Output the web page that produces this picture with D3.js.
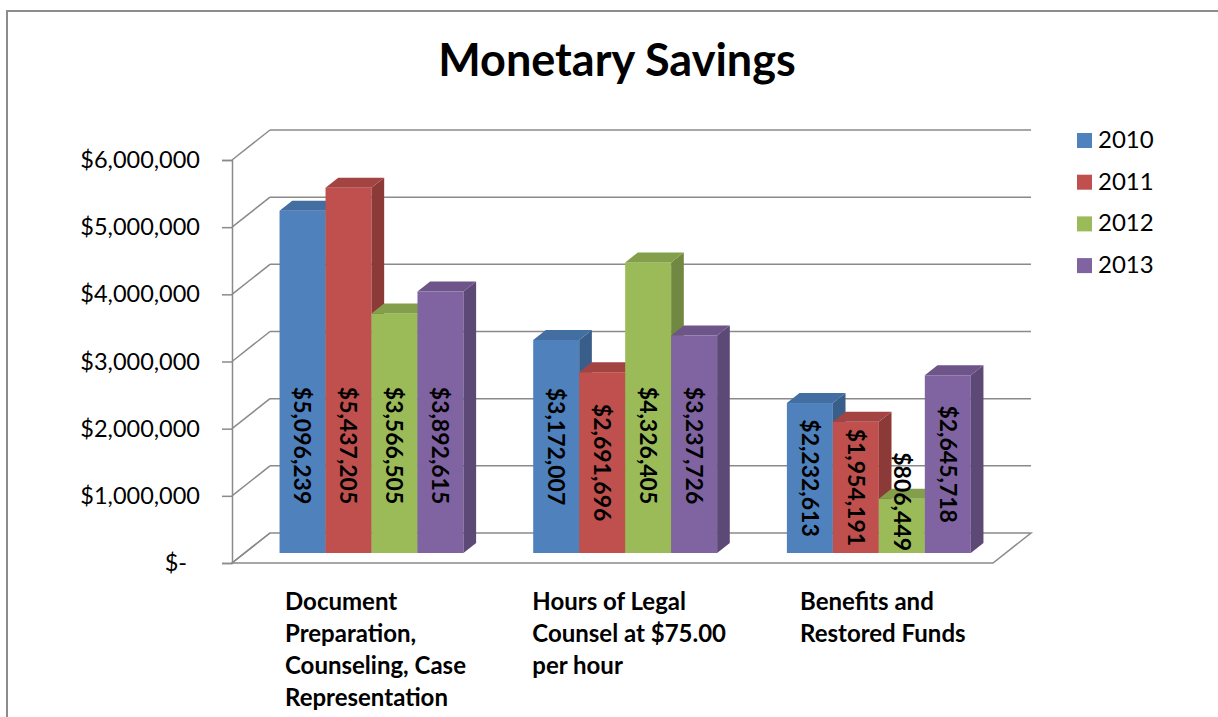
<!DOCTYPE html>
<html>
  <head>
    <style>
    body {
      margin: 0;
      background: #fff;
    }
    text {
      font-family: Lato, "Open Sans", sans-serif;
    }
    </style>
  </head>
  <body>
    <script src="https://d3js.org/d3.v7.min.js"></script>
    <script>

    // data
    var categories = ["Document Preparation, Counseling, Case Representation",
                      "Hours of Legal Counsel at $75.00 per hour",
                      "Benefits and Restored Funds"];
    var categoryLines = [["Document", "Preparation,", "Counseling, Case", "Representation"],
                         ["Hours of Legal", "Counsel at $75.00", "per hour"],
                         ["Benefits and", "Restored Funds"]];
    var years = ["2010", "2011", "2012", "2013"];
    var values2010 = [5096239, 3172007, 2232613];
    var values2011 = [5437205, 2691696, 1954191];
    var values2012 = [3566505, 4326405, 806449];
    var values2013 = [3892615, 3237726, 2645718];
    var yTicks = [0, 1000000, 2000000, 3000000, 4000000, 5000000, 6000000];
    var colors = ["#4F81BD", "#C0504D", "#9BBB59", "#8064A2"];

    var series = [values2010, values2011, values2012, values2013];

    var width = 1218, height = 717;

    // 3d-ish floor: front edge and depth offset
    var DX = 38, DY = -30;
    var f1 = 1 / 3, f2 = 2 / 3; // bar front / back depth fraction

    var svg = d3.select("body").append("svg")
        .attr("width", width)
        .attr("height", height);

    // chart border (runs off the page right and bottom)
    svg.append("path")
        .attr("d", "M7,730 L7,11 L1230,11")
        .style("fill", "none")
        .style("stroke", "#8c8c8c")
        .style("stroke-width", 2);

    var y = d3.scaleLinear().domain([0, 6000000]).range([563, 160]);
    var x0 = d3.scaleBand().domain(categories).range([232, 993])
        .paddingInner(0.275).paddingOuter(0.1375);
    var x1 = d3.scaleBand().domain(years).range([0, x0.bandwidth()]);

    var gridColor = "#8a8a8a";

    // floor
    var fl = 232, fr = 993, fy = y(0);
    svg.append("path")
        .attr("d", "M" + fl + "," + fy + " L" + fr + "," + fy + " L" + (fr + DX) + "," + (fy + DY) +
                   " L" + (fl + DX) + "," + (fy + DY) + " Z")
        .style("fill", "#fff")
        .style("stroke", gridColor)
        .style("stroke-width", 1.5);

    // back wall gridlines + side wall diagonals
    var grid = svg.append("g");
    grid.selectAll(".hgrid")
        .data(yTicks.slice(1))
      .enter().append("line")
        .attr("x1", fl + DX).attr("x2", fr + DX)
        .attr("y1", function(d){ return y(d) + DY; })
        .attr("y2", function(d){ return y(d) + DY; })
        .style("stroke", gridColor).style("stroke-width", 1.5);

    grid.selectAll(".dgrid")
        .data(yTicks)
      .enter().append("line")
        .attr("x1", fl).attr("x2", fl + DX)
        .attr("y1", function(d){ return y(d); })
        .attr("y2", function(d){ return y(d) + DY; })
        .style("stroke", gridColor).style("stroke-width", 1.5);

    // y axis
    var fmt = d3.format(",");
    var yAxis = d3.axisLeft(y)
        .tickValues(yTicks)
        .tickSize(10)
        .tickPadding(22)
        .tickFormat(function(d){ return d === 0 ? "$-" : "$" + fmt(d); });

    var ax = svg.append("g")
        .attr("transform", "translate(" + fl + ",0)")
        .call(yAxis);
    ax.select(".domain").style("stroke", gridColor).style("stroke-width", 1.5);
    ax.selectAll(".tick line").style("stroke", gridColor).style("stroke-width", 1.5);
    ax.selectAll(".tick text")
        .style("font-size", "23.5px")
        .style("font-family", "Lato, sans-serif")
        .style("fill", "#000")
        .attr("dx", function(d){ return d === 0 ? -13 : 0; });

    // bars
    var ox1 = f1 * DX, oy1 = f1 * DY;
    var bdx = (f2 - f1) * DX, bdy = (f2 - f1) * DY;
    var bw = x1.bandwidth();

    var bars = [];
    categories.forEach(function(c, ci){
      years.forEach(function(yr, si){
        bars.push({cat: c, ci: ci, year: yr, si: si, value: series[si][ci]});
      });
    });

    var barG = svg.selectAll(".bar")
        .data(bars)
      .enter().append("g")
        .attr("class", "bar");

    function fx(d){ return x0(d.cat) + x1(d.year) + ox1; }

    barG.append("rect")
        .attr("x", fx)
        .attr("y", function(d){ return y(d.value) + oy1; })
        .attr("width", bw)
        .attr("height", function(d){ return y(0) - y(d.value); })
        .style("fill", function(d){ return colors[d.si]; });

    // right side
    barG.append("path")
        .attr("d", function(d){
          var xr = fx(d) + bw, yt = y(d.value) + oy1, yb = y(0) + oy1;
          return "M" + xr + "," + yt + " L" + (xr + bdx) + "," + (yt + bdy) +
                 " L" + (xr + bdx) + "," + (yb + bdy) + " L" + xr + "," + yb + " Z";
        })
        .style("fill", function(d){ return d3.color(colors[d.si]).darker(0.9); });

    // top
    barG.append("path")
        .attr("d", function(d){
          var xl = fx(d), yt = y(d.value) + oy1;
          return "M" + xl + "," + yt + " L" + (xl + bw) + "," + yt + " L" + (xl + bw + bdx) + "," + (yt + bdy) +
                 " L" + (xl + bdx) + "," + (yt + bdy) + " Z";
        })
        .style("fill", function(d){ return d3.color(colors[d.si]).darker(0.45); });

    // value labels, rotated
    var labels = svg.selectAll(".vlabel")
        .data(bars)
      .enter().append("text")
        .attr("class", "vlabel")
        .attr("text-anchor", "middle")
        .attr("dy", "0.35em")
        .style("font-size", "23px")
        .style("font-weight", "bold")
        .style("fill", "#000")
        .text(function(d){ return "$" + fmt(d.value); });

    labels.attr("transform", function(d){
      var half = this.getComputedTextLength() / 2;
      var cx = fx(d) + bw / 2;
      var base = y(0) + oy1;
      var mid = y(Math.min(d.value, 3200000) / 2) + oy1;
      var cy = Math.min(mid, base - half - 2);
      return "translate(" + cx + "," + cy + ") rotate(90)";
    });

    // category labels
    categories.forEach(function(c, ci){
      var cx = x0(c) + x0.bandwidth() / 2 + ox1 + 4;
      var t = svg.append("text")
          .style("font-size", "24px")
          .style("font-weight", "bold")
          .style("fill", "#000");
      categoryLines[ci].forEach(function(line, li){
        t.append("tspan")
            .attr("y", 610 + li * 32)
            .text(line);
      });
      var maxW = d3.max(t.selectAll("tspan").nodes(), function(n){ return n.getComputedTextLength(); });
      t.selectAll("tspan").attr("x", cx - maxW / 2);
    });

    // title
    svg.append("text")
        .attr("x", 617)
        .attr("y", 76)
        .attr("text-anchor", "middle")
        .style("font-size", "45px")
        .style("font-weight", "bold")
        .style("fill", "#000")
        .text("Monetary Savings");

    // legend
    var legend = svg.selectAll(".legend")
        .data(years)
      .enter().append("g")
        .attr("class", "legend")
        .attr("transform", function(d, i){ return "translate(1077," + (133 + i * 41.7) + ")"; });

    legend.append("rect")
        .attr("width", 15)
        .attr("height", 15)
        .style("fill", function(d, i){ return colors[i]; });

    legend.append("text")
        .attr("x", 21)
        .attr("y", 15)
        .style("font-size", "24px")
        .style("fill", "#000")
        .text(function(d){ return d; });

    </script>
  </body>
</html>
